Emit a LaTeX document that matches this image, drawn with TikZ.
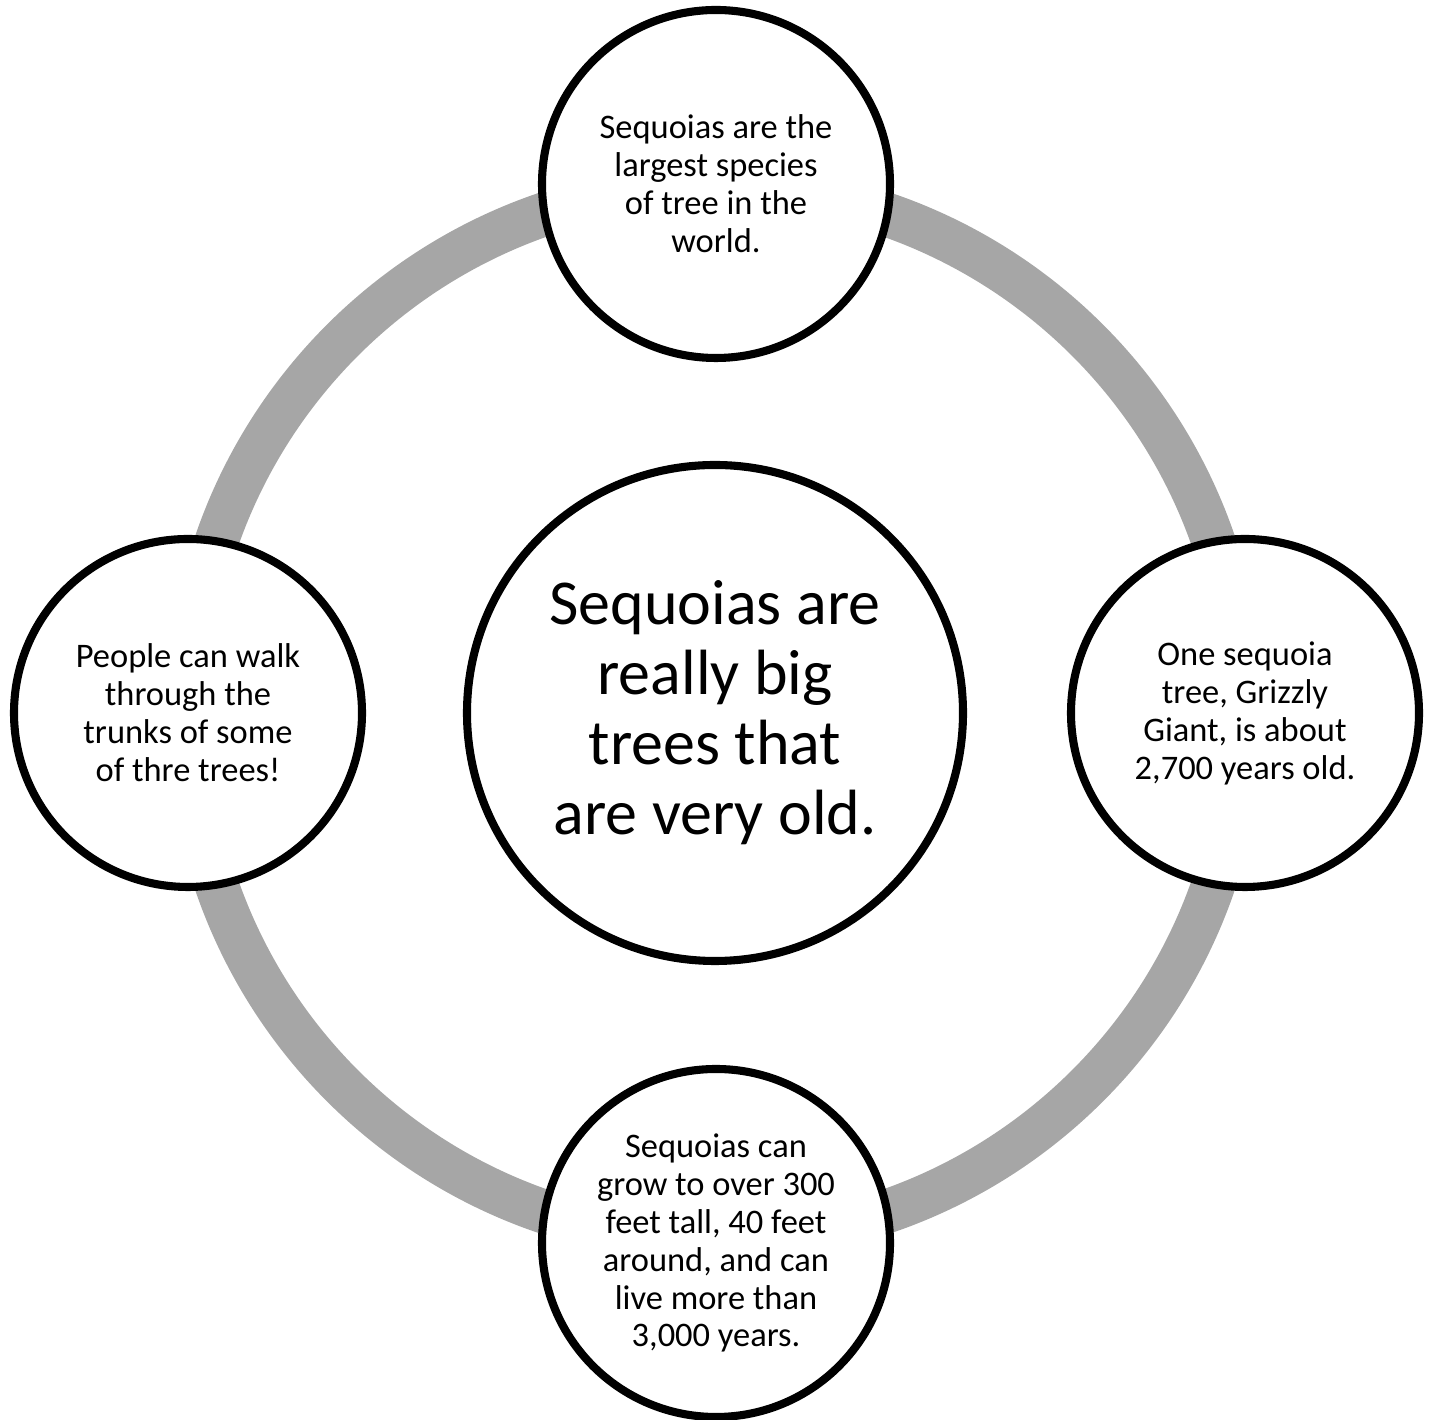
\documentclass[tikz,border=0pt]{standalone}
\usepackage{fontspec}
\setmainfont{Carlito}
\usepackage{tikz}
\usetikzlibrary{positioning}
\definecolor{ringgray}{RGB}{166,166,166}

\begin{document}
\begin{tikzpicture}
	\useasboundingbox (0,0) rectangle (14.34,14.20);
	\coordinate (O) at (7.15,7.07);
	\draw[ringgray, line width=0.44cm] (O) circle (5.27);

	\begin{scope}[every node/.style={fill=white,circle,draw=black,line width=2.3pt,align=center,inner sep=0pt,
	              minimum size=3.48cm,font=\fontsize{9.8}{10.8}\selectfont}]
	    \node (M) [minimum size=4.96cm, font=\fontsize{18.2}{19.9}\selectfont] at (O) {Sequoias are\\really big\\trees that\\are very old.};
	    \node (T) at (7.16,12.36) {Sequoias are the\\largest species\\of tree in the\\world.};
	    \node (R) at (12.45,7.07) {One sequoia\\tree, Grizzly\\Giant, is about\\2,700 years old.};
	    \node (B) at (7.16,1.77) {Sequoias can\\grow to over 300\\feet tall, 40 feet\\around, and can\\live more than\\3,000 years.};
	    \node (L) at (1.88,7.07) {People can walk\\through the\\trunks of some\\of thre trees!};
	\end{scope}
\end{tikzpicture}
\end{document}
